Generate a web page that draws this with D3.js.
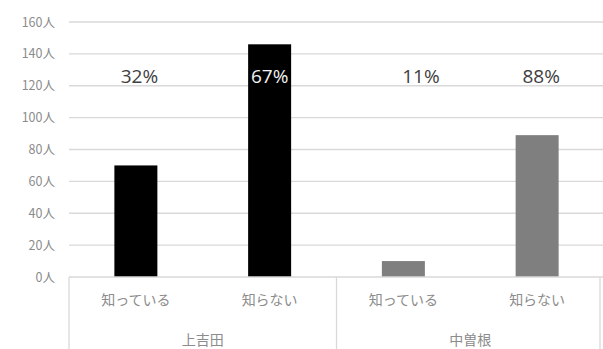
<!DOCTYPE html>
<html>
<head>
<meta charset="utf-8">
<script src="https://cdn.jsdelivr.net/npm/d3@7"></script>
<style>
  html, body { margin: 0; padding: 0; background: #fff; }
  svg { display: block; }
</style>
</head>
<body>
<svg id="chart" width="603" height="349"></svg>
<script>
// Awareness survey: people who know / don't know, by district
const groups = ["上吉田", "中曽根"];
const answers = ["知っている", "知らない"];
const counts = [[70, 146], [10, 89]];
const shareLabels = [["32%", "67%"], ["11%", "88%"]];
const yTicks = [0, 20, 40, 60, 80, 100, 120, 140, 160];
const unit = "人";

const W = 603, H = 349;
const plotLeft = 69, plotRight = 604, plotTop = 22, plotBottom = 277;
const barColors = ["#000000", "#7f7f7f"];
const labelColors = [["#404040", "#f2f2f2"], ["#404040", "#404040"]];
const labelDx = [[3.5, 0], [17.5, 4]];
const jpFont = "'Noto Sans CJK JP', sans-serif";

const rows = [];
groups.forEach((g, gi) => answers.forEach((a, ai) => rows.push({
  key: g + "|" + a, group: g, gi, answer: a, ai,
  value: counts[gi][ai], label: shareLabels[gi][ai]
})));

const svg = d3.select("#chart");

const xBand = d3.scaleBand().domain(rows.map(d => d.key)).range([plotLeft, plotRight]);
const xGroup = d3.scaleBand().domain(groups).range([plotLeft, plotRight]);
const y = d3.scaleLinear().domain([0, 160]).range([plotBottom, plotTop]);

// horizontal gridlines
svg.append("g").selectAll("line").data(yTicks.filter(t => t > 0)).join("line")
  .attr("x1", plotLeft).attr("x2", W)
  .attr("y1", d => y(d)).attr("y2", d => y(d))
  .attr("stroke", "#d9d9d9").attr("stroke-width", 1.3);

// y-axis tick labels
const yAxis = d3.axisLeft(y).tickValues(yTicks).tickSize(0).tickPadding(0)
  .tickFormat(d => d + unit);
const ya = svg.append("g").attr("transform", `translate(${plotLeft - 14},0)`).call(yAxis);
ya.select(".domain").remove();
ya.selectAll("text").attr("fill", "#8c8c8c").style("font-family", jpFont).style("font-size", "12.5px");

// bars
svg.append("g").selectAll("rect").data(rows).join("rect")
  .attr("x", d => xBand(d.key) + (xBand.bandwidth() - 43) / 2)
  .attr("width", 43)
  .attr("y", d => y(d.value))
  .attr("height", d => y(0) - y(d.value))
  .attr("fill", d => barColors[d.gi]);

// baseline and category separators (the outer right edge sits just inside the frame)
svg.append("line").attr("x1", plotLeft).attr("x2", W).attr("y1", plotBottom).attr("y2", plotBottom)
  .attr("stroke", "#d9d9d9").attr("stroke-width", 1.3);
const seps = [plotLeft].concat(groups.map(g => Math.min(xGroup(g) + xGroup.bandwidth(), W - 3)));
svg.append("g").selectAll("line").data(seps).join("line")
  .attr("x1", d => d).attr("x2", d => d).attr("y1", plotBottom).attr("y2", H)
  .attr("stroke", "#d9d9d9").attr("stroke-width", 1.3);

// answer labels
svg.append("g").selectAll("text").data(rows).join("text")
  .attr("x", d => xBand(d.key) + xBand.bandwidth() / 2)
  .attr("y", 300).attr("dy", "0.35em").attr("text-anchor", "middle")
  .attr("fill", "#8c8c8c").style("font-family", jpFont).style("font-size", "14px")
  .text(d => d.answer);

// district labels
svg.append("g").selectAll("text").data(groups).join("text")
  .attr("x", d => xGroup(d) + xGroup.bandwidth() / 2)
  .attr("y", 340).attr("dy", "0.35em").attr("text-anchor", "middle")
  .attr("fill", "#8c8c8c").style("font-family", jpFont).style("font-size", "14px")
  .text(d => d);

// share labels
svg.append("g").selectAll("text").data(rows).join("text")
  .attr("x", d => xBand(d.key) + xBand.bandwidth() / 2 + labelDx[d.gi][d.ai])
  .attr("y", 76).attr("dy", "0.35em").attr("text-anchor", "middle")
  .attr("fill", d => labelColors[d.gi][d.ai])
  .style("font-family", "'Open Sans', sans-serif").style("font-size", "19px")
  .text(d => d.label);
</script>
</body>
</html>
